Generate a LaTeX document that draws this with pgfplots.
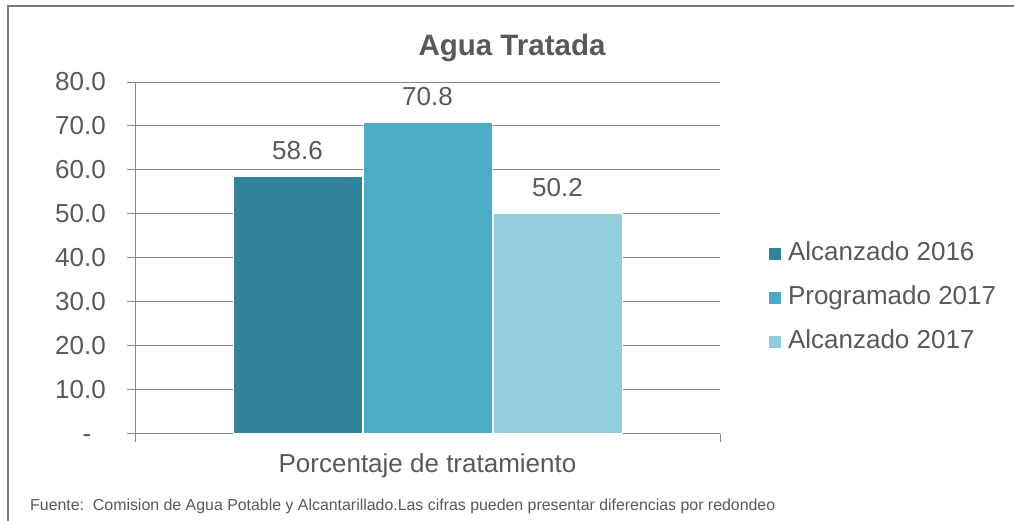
\documentclass[border=0pt]{standalone}
\usepackage{pgfplots}
\pgfplotsset{compat=1.18}
\usepackage{fontspec}
\setmainfont{Liberation Sans}
\definecolor{txt}{HTML}{595959}
\definecolor{gridc}{HTML}{888888}
\definecolor{framec}{HTML}{7A7A7A}
\definecolor{cA}{HTML}{31849B}
\definecolor{cB}{HTML}{4BACC6}
\definecolor{cC}{HTML}{93CDDD}
\newcommand\fA{\fontsize{26}{31}\selectfont}
\begin{document}
\begin{tikzpicture}[x=1pt,y=1pt]
\useasboundingbox (0,0) rectangle (1014,521);
\fill[white] (0,0) rectangle (1014,521);
\draw[framec, line width=1.5pt] (8,-5) -- (8,515) -- (1020,515);
\begin{axis}[
  at={(135pt,87pt)}, anchor=south west,
  scale only axis, width=585pt, height=352pt,
  xmin=-1, xmax=1, ymin=0, ymax=80,
  axis x line*=bottom, axis y line*=left,
  ytick={0,10,...,80},
  yticklabels={{-\phantom{0}},10.0,20.0,30.0,40.0,50.0,60.0,70.0,80.0},
  xtick={-1,1}, xticklabels={},
  ymajorgrids, grid style={gridc, line width=1pt},
  tick align=outside, major tick length=8pt,
  tick style={gridc, line width=1pt},
  axis line style={gridc, line width=1pt},
  yticklabel style={font=\fA, text=txt, inner sep=0pt, anchor=east, xshift=-21pt},
  /pgf/number format/assume math mode=true,
  ybar=1pt, bar width=129pt,
  nodes near coords,
  nodes near coords style={font=\fA, text=txt, inner sep=0pt, anchor=south, yshift=16pt,
    /pgf/number format/fixed, /pgf/number format/precision=1, /pgf/number format/fixed zerofill},
  legend style={at={(1.0838,0.548)}, anchor=north west, draw=none, fill=none,
    inner sep=0pt, outer sep=0pt, font=\fA, text=txt, row sep=19pt,
    nodes={inner sep=0pt, text height=19pt, text depth=6pt},
    /tikz/every odd column/.append style={column sep=7pt}},
  legend cell align=left,
  sqleg/.style={legend image code/.code={\fill[##1, draw=none] (0pt,-6pt) rectangle (12pt,6pt);}},
  clip=false,
]
\addplot[fill=cA, draw=white, line width=1pt, sqleg] coordinates {(0,58.6)};
\addplot[fill=cB, draw=white, line width=1pt, sqleg] coordinates {(0,70.8)};
\addplot[fill=cC, draw=white, line width=1pt, sqleg] coordinates {(0,50.2)};
\legend{Alcanzado 2016, Programado 2017, Alcanzado 2017}
\end{axis}
\node[anchor=base, inner sep=0pt, text=txt, font=\fontsize{29.5}{35}\selectfont\bfseries] at (512,465) {Agua Tratada};
\node[anchor=base, inner sep=0pt, text=txt, font=\fA] at (427.5,48) {Porcentaje de tratamiento};
\node[anchor=base west, inner sep=0pt, text=txt, font=\fontsize{15.9}{18}\selectfont] at (30,10.3) {Fuente:\ \ Comision de Agua Potable y Alcantarillado.Las cifras pueden presentar diferencias por redondeo};
\end{tikzpicture}
\end{document}
